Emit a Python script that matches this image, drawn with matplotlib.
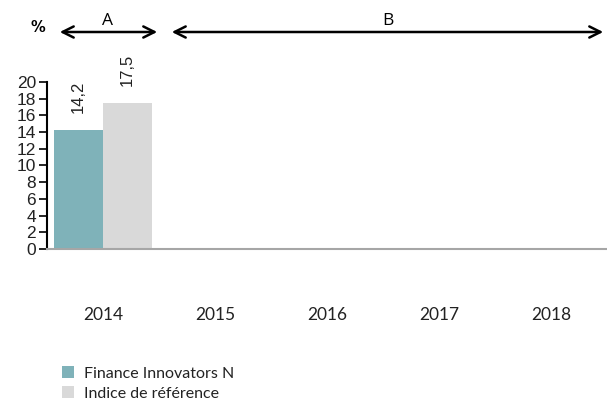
import matplotlib.pyplot as plt
import numpy as np

years = ['2014', '2015', '2016', '2017', '2018']
fund = [14.2, np.nan, np.nan, np.nan, np.nan]
index = [17.5, np.nan, np.nan, np.nan, np.nan]
fund_name = 'Finance Innovators N'
index_name = 'Indice de référence'
yticks = list(range(0, 21, 2))

W, H = 607, 403
fig = plt.figure(figsize=(W / 100, H / 100), dpi=100)
ax = fig.add_axes([47 / W, (H - 249) / H, (W - 47) / W, 167 / H])

x = np.arange(len(years))
bw = 0.44
b1 = ax.bar(x - bw / 2, fund, bw, color='#7fb2b9', label=fund_name)
b2 = ax.bar(x + bw / 2, index, bw, color='#d9d9d9', label=index_name)

# value labels, rotated
for bars, vals in [(b1, fund), (b2, index)]:
    for rect, v in zip(bars, vals):
        if np.isnan(v):
            continue
        ax.annotate(f'{v:.1f}'.replace('.', ','),
                    (rect.get_x() + rect.get_width() / 2, v),
                    xytext=(0, 17), textcoords='offset pixels',
                    rotation=90, ha='center', va='bottom',
                    fontsize=12, family='Liberation Sans', color='#222222',
                    annotation_clip=False)

ax.set_xlim(-0.5, len(years) - 0.5)
ax.set_ylim(0, 20)
ax.set_yticks(yticks)
ax.tick_params(axis='y', length=6, width=1.2, pad=2, labelsize=12.5,
               colors='black')
for lbl in ax.get_yticklabels():
    lbl.set_family('Liberation Sans')
    lbl.set_color('#222222')

ax.set_xticks(x)
ax.set_xticklabels(years, family='Lato', fontsize=12.5, color='#222222')
ax.tick_params(axis='x', length=0, pad=42)

for s in ['top', 'right']:
    ax.spines[s].set_visible(False)
ax.spines['left'].set_linewidth(1.5)
ax.spines['bottom'].set_color('#a6a6a6')
ax.spines['bottom'].set_linewidth(1.5)

# period arrows
def px(xp, yp):
    return (xp / W, 1 - yp / H)

arr = dict(arrowstyle='<->', lw=1.8, color='black', mutation_scale=20)
fig.patches.append(plt.matplotlib.patches.FancyArrowPatch(
    px(57, 32), px(160, 32), transform=fig.transFigure, **arr))
fig.patches.append(plt.matplotlib.patches.FancyArrowPatch(
    px(169, 32), px(606, 32), transform=fig.transFigure, **arr))
fig.text(*px(108, 21), 'A', ha='center', va='center', fontsize=12.5,
         family='Open Sans')
fig.text(*px(388, 21), 'B', ha='center', va='center', fontsize=12.5,
         family='Open Sans')
fig.text(*px(38, 28), '%', ha='center', va='center', fontsize=10.5,
         fontweight='bold')

fig.legend(handles=[b1, b2], loc='upper left', bbox_to_anchor=px(51, 355),
           frameon=False, prop={'family': 'Lato', 'size': 11.5},
           handlelength=0.75, handleheight=0.75, handletextpad=0.6,
           labelspacing=0.35, labelcolor='#222222', borderpad=0.2)

fig.savefig('out.png', dpi=100)
